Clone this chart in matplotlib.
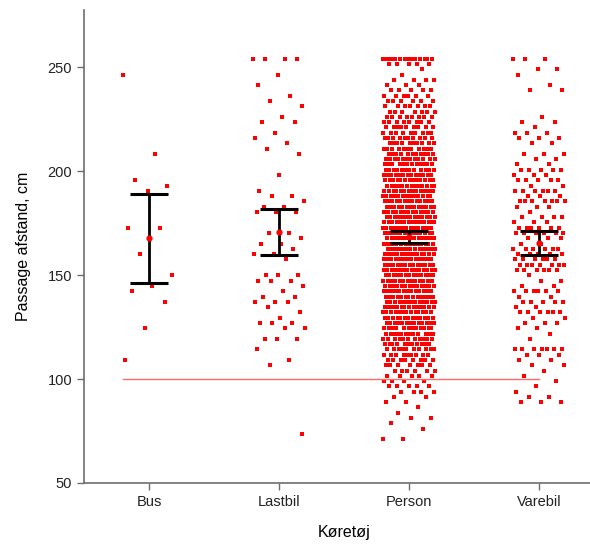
import numpy as np
import matplotlib.pyplot as plt

plt.rcParams['font.family'] = ['Liberation Sans', 'DejaVu Sans']

categories = ['Bus', 'Lastbil', 'Person', 'Varebil']

# passing distances in cm (sensor reads whole inches, so values sit on a 2.54 cm grid)
bus_cm = [246.4, 208.3, 195.6, 193.0, 190.5, 172.7, 172.7, 160.0, 149.9,
          144.8, 142.2, 137.2, 124.5, 109.2]

lastbil_cm = [254.0, 254.0, 254.0, 254.0, 246.4, 241.3, 236.2, 233.7, 231.1,
              226.1, 223.5, 223.5, 218.4, 215.9, 213.4, 210.8, 208.3, 198.1,
              190.5, 188.0, 188.0, 185.4, 182.9, 182.9, 180.3, 180.3, 180.3,
              170.2, 170.2, 167.6, 165.1, 165.1, 162.6, 160.0, 160.0, 157.5,
              149.9, 149.9, 149.9, 147.3, 147.3, 147.3, 144.8, 142.2, 139.7,
              139.7, 137.2, 137.2, 137.2, 134.6, 132.1, 129.5, 127.0, 127.0,
              127.0, 124.5, 124.5, 119.4, 119.4, 119.4, 114.3, 109.2, 106.7,
              73.7]

# person cars: distance value and number of passes at that value
person_rows = [254.0, 251.5, 248.9, 246.4, 243.8, 241.3, 238.8, 236.2, 233.7,
               231.1, 228.6, 226.1, 223.5, 221.0, 218.4, 215.9, 213.4, 210.8,
               208.3, 205.7, 203.2, 200.7, 198.1, 195.6, 193.0, 190.5, 188.0,
               185.4, 182.9, 180.3, 177.8, 175.3, 172.7, 170.2, 167.6, 165.1,
               162.6, 160.0, 157.5, 154.9, 152.4, 149.9, 147.3, 144.8, 142.2,
               139.7, 137.2, 134.6, 132.1, 129.5, 127.0, 124.5, 121.9, 119.4,
               116.8, 114.3, 111.8, 109.2, 106.7, 104.1, 101.6, 99.1, 96.5,
               94.0, 91.4, 88.9, 86.4, 83.8, 81.3, 78.7, 76.2, 73.7, 71.1]
person_counts = [14, 5, 1, 1, 4, 3, 5, 6, 6,
                 7, 7, 8, 8, 9, 9, 10, 10, 11,
                 11, 12, 12, 12, 13, 13, 13, 14, 14,
                 14, 14, 15, 15, 15, 15, 15, 15, 15,
                 15, 15, 15, 15, 15, 15, 14, 14, 14,
                 14, 14, 14, 13, 13, 13, 12, 12, 11,
                 11, 10, 9, 8, 7, 6, 5, 4, 5,
                 4, 2, 2, 1, 1, 2, 1, 1, 0, 2]

varebil_rows = [254.0, 248.9, 246.4, 241.3, 238.8, 226.1, 223.5, 221.0, 218.4,
                215.9, 213.4, 208.3, 205.7, 203.2, 200.7, 198.1, 195.6, 193.0,
                190.5, 188.0, 185.4, 182.9, 180.3, 177.8, 175.3, 172.7, 170.2,
                167.6, 165.1, 162.6, 160.0, 157.5, 154.9, 152.4, 149.9, 147.3,
                144.8, 142.2, 139.7, 137.2, 134.6, 132.1, 129.5, 127.0, 124.5,
                121.9, 119.4, 114.3, 111.8, 109.2, 106.7, 104.1, 101.6, 99.1,
                96.5, 94.0, 91.4, 88.9]
varebil_counts = [3, 2, 1, 1, 2, 1, 2, 1, 3,
                  3, 2, 3, 2, 2, 5, 3, 5, 2,
                  6, 3, 7, 3, 1, 4, 3, 6, 6,
                  3, 2, 6, 5, 6, 7, 6, 1, 2,
                  2, 6, 2, 5, 2, 6, 2, 3, 2,
                  1, 1, 7, 3, 2, 2, 1, 1, 1,
                  1, 1, 2, 3]

limit_cm = 100


def t_crit(df, z=1.959964):
    """two-sided 95% t quantile (Cornish-Fisher expansion, no scipy here)"""
    return (z + (z**3 + z) / (4 * df)
            + (5 * z**5 + 16 * z**3 + 3 * z) / (96 * df**2))


def spread(n, half=0.2):
    """even horizontal scatter of n points around a category"""
    k = np.arange(n)
    return ((k * 0.6180339887) % 1.0 - 0.5) * 2 * half


groups = [np.array(bus_cm),
          np.array(lastbil_cm),
          np.repeat(person_rows, person_counts),
          np.repeat(varebil_rows, varebil_counts)]

fig = plt.figure(figsize=(5.9, 5.46), dpi=100)
ax = fig.add_axes([84 / 590, 63 / 546, 520 / 590, 473 / 546])

means, lo, hi = [], [], []
for i, vals in enumerate(groups):
    x = i + 1 + spread(len(vals))
    ax.plot(x, vals, 's', color='#ff0000', ms=3.4, mew=0, zorder=2)
    m = vals.mean()
    h = t_crit(len(vals) - 1) * vals.std(ddof=1) / np.sqrt(len(vals))
    means.append(m)
    lo.append(m - h)
    hi.append(m + h)

pos = np.arange(1, len(categories) + 1)
means = np.array(means)
ax.errorbar(pos, means, yerr=[means - np.array(lo), np.array(hi) - means],
            fmt='none', ecolor='black', elinewidth=2, capsize=13.5,
            capthick=2.2, zorder=4)
ax.plot(pos, means, 'o', color='#ff0000', ms=4.5, mew=0, zorder=5)

# reference distance
ax.plot([0.8, 4.0], [limit_cm, limit_cm], color='#ff6a6a', lw=1, zorder=3)

ax.set_xlim(0.5, 4.5)
ax.set_ylim(50, 277.5)
ax.set_xticks(pos)
ax.set_xticklabels(categories)
ax.set_yticks([50, 100, 150, 200, 250])

for side in ('top', 'right'):
    ax.spines[side].set_visible(False)
for side in ('left', 'bottom'):
    ax.spines[side].set_color('#6e6e6e')
    ax.spines[side].set_linewidth(1.2)
ax.tick_params(direction='out', length=5, width=1, color='#6e6e6e',
               labelsize=10.5, labelcolor='#222222')

ax.set_xlabel('Køretøj', fontsize=11.5, labelpad=12)
ax.set_ylabel('Passage afstand, cm', fontsize=11.5, labelpad=12)

fig.savefig('out.png', dpi=100)
